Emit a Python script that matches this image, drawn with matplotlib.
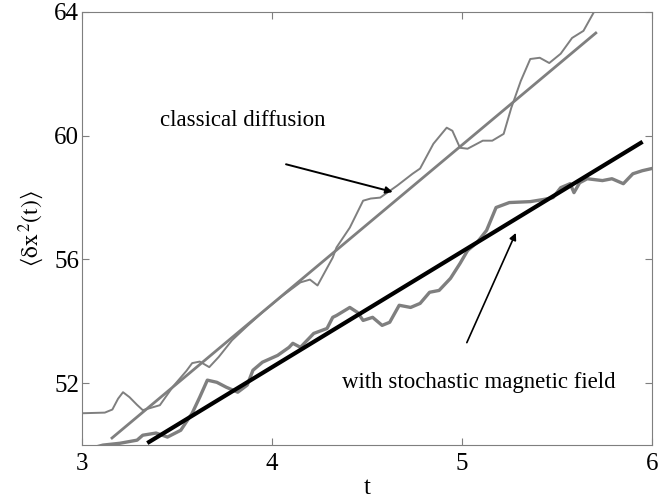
import numpy as np
import matplotlib.pyplot as plt

plt.rcParams['font.family'] = ['Liberation Serif', 'DejaVu Serif']
plt.rcParams['mathtext.fontset'] = 'stix'

# classical diffusion, simulated curve
t_class = [3.0, 3.12, 3.16, 3.19, 3.216, 3.25, 3.29, 3.32, 3.36, 3.41, 3.48, 3.55, 3.58,
           3.62, 3.67, 3.72, 3.79, 3.87, 3.95, 4.05, 4.15, 4.2, 4.24, 4.32, 4.34,
           4.41, 4.48, 4.52, 4.57, 4.66, 4.74, 4.78, 4.85, 4.92, 4.95, 4.99, 5.03,
           5.11, 5.16, 5.22, 5.26, 5.31, 5.36, 5.41, 5.46, 5.52, 5.58, 5.64, 5.69, 5.75]
y_class = [51.03, 51.05, 51.15, 51.5, 51.71, 51.55, 51.3, 51.13, 51.2, 51.29, 51.9, 52.4, 52.65,
           52.7, 52.52, 52.85, 53.39, 53.85, 54.29, 54.8, 55.26, 55.35, 55.16, 56.06, 56.39,
           57.03, 57.9, 57.97, 58.0, 58.39, 58.77, 58.94, 59.74, 60.26, 60.16, 59.61, 59.58,
           59.84, 59.84, 60.06, 60.9, 61.77, 62.48, 62.52, 62.35, 62.65, 63.16, 63.39, 63.94, 64.6]

# with stochastic magnetic field, simulated curve
t_stoch = [3.05, 3.11, 3.2, 3.29, 3.32, 3.39, 3.45, 3.52, 3.58, 3.62, 3.66, 3.71,
           3.76, 3.82, 3.87, 3.9, 3.95, 4.03, 4.09, 4.11, 4.15, 4.22, 4.29, 4.32,
           4.34, 4.41, 4.45, 4.48, 4.53, 4.58, 4.62, 4.67, 4.73, 4.78, 4.83, 4.88,
           4.94, 4.99, 5.03, 5.08, 5.13, 5.18, 5.25, 5.36, 5.43, 5.48, 5.52, 5.57,
           5.59, 5.62, 5.66, 5.74, 5.79, 5.85, 5.9, 5.95, 6.0]
y_stoch = [49.9, 50.0, 50.06, 50.16, 50.32, 50.39, 50.26, 50.48, 51.03, 51.55, 52.1, 52.03,
           51.87, 51.71, 51.94, 52.42, 52.68, 52.9, 53.16, 53.29, 53.16, 53.61, 53.77, 54.13,
           54.19, 54.45, 54.29, 54.03, 54.13, 53.87, 53.97, 54.52, 54.45, 54.58, 54.94, 55.0,
           55.39, 55.87, 56.29, 56.55, 56.94, 57.68, 57.84, 57.87, 57.94, 58.0, 58.32, 58.45,
           58.16, 58.48, 58.61, 58.55, 58.61, 58.45, 58.77, 58.87, 58.94]

# linear fits
fit_class_t = [3.158, 5.705]
fit_class_y = [50.23, 63.32]
fit_stoch_t = [3.353, 5.942]
fit_stoch_y = [50.10, 59.77]

gray = '#7f7f7f'

fig = plt.figure(figsize=(6.72, 4.99), dpi=100)
ax = fig.add_axes([0.122, 0.108, 0.848, 0.868])

ax.plot(t_class, y_class, color=gray, lw=1.4)
ax.plot(fit_class_t, fit_class_y, color=gray, lw=2.0)
ax.plot(t_stoch, y_stoch, color=gray, lw=2.4)
ax.plot(fit_stoch_t, fit_stoch_y, color='black', lw=3.0)

ax.set_xlim(3, 6)
ax.set_ylim(50, 64)
ax.set_xticks([3, 4, 5, 6])
ax.set_yticks([52, 56, 60, 64])
ax.tick_params(direction='in', top=True, right=True, labelsize=18, length=5,
               color=gray)
ax.tick_params(axis='y', pad=2)
ax.tick_params(axis='x', pad=6)
for s in ax.spines.values():
    s.set_color(gray)

ax.set_xlabel('t', fontsize=18, labelpad=1)
ax.set_ylabel(r'$\langle\mathrm{\delta x^{\,2}(t)}\rangle$', fontsize=17, labelpad=6)

ax.annotate('', xy=(4.65, 58.16), xytext=(4.06, 59.10),
            arrowprops=dict(arrowstyle='-|>', color='black', lw=1.4, mutation_scale=10))
ax.text(3.41, 60.48, 'classical diffusion', fontsize=16.5, va='center', ha='left')

ax.annotate('', xy=(5.29, 56.94), xytext=(5.02, 53.23),
            arrowprops=dict(arrowstyle='-|>', color='black', lw=1.2, mutation_scale=10))
ax.text(4.37, 52.03, 'with stochastic magnetic field', fontsize=16.5, va='center', ha='left')

fig.savefig('out.png', dpi=100)
